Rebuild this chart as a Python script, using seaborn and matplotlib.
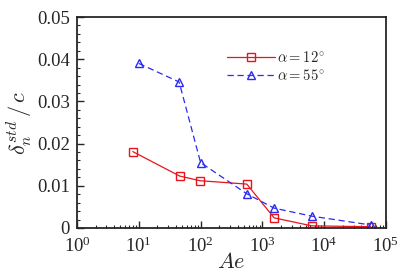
import numpy as np
import pandas as pd
import matplotlib
matplotlib.use("Agg")
import matplotlib.pyplot as plt
import seaborn as sns
from matplotlib.font_manager import FontProperties
from matplotlib.ticker import LogLocator, MultipleLocator, NullFormatter

# values
ae_12 = [8.0, 46, 98, 560, 1550, 6300, 57000]
std_12 = [0.0181, 0.0123, 0.0112, 0.0104, 0.0024, 0.0005, 0.0003]
ae_55 = [10.0, 45, 100, 560, 1550, 6300, 57000]
std_55 = [0.0390, 0.0346, 0.0155, 0.0081, 0.0047, 0.0028, 0.0007]
labels = [r"$\alpha = 12^{\circ}$", r"$\alpha = 55^{\circ}$"]

sns.set_style("ticks")
plt.rcParams["font.family"] = ["Liberation Serif", "DejaVu Serif"]
plt.rcParams["mathtext.fontset"] = "stix"

fig = plt.figure(figsize=(4.15, 2.77), dpi=100)
ax = fig.add_axes([0.1855, 0.177, 0.7445, 0.7616])

sns.lineplot(x=ae_12, y=std_12, ax=ax, color="#e8141c", marker="s", markersize=5.5,
             markerfacecolor="none", markeredgecolor="#e8141c", markeredgewidth=1.0,
             linewidth=0.9, label=labels[0])
sns.lineplot(x=ae_55, y=std_55, ax=ax, color="#2a2af0", marker="^", markersize=6,
             markerfacecolor="none", markeredgecolor="#2a2af0", markeredgewidth=1.0,
             linewidth=0.9, linestyle=(0, (5, 3)), label=labels[1])

ax.set_xscale("log")
ax.set_xlim(1, 1e5)
ax.set_ylim(0, 0.05)
ax.xaxis.set_major_locator(LogLocator(base=10, numticks=10))
ax.xaxis.set_minor_locator(LogLocator(base=10, subs=np.arange(2, 10), numticks=20))
ax.xaxis.set_minor_formatter(NullFormatter())
ax.yaxis.set_minor_locator(MultipleLocator(0.002))
ax.set_yticks([0, 0.01, 0.02, 0.03, 0.04, 0.05])
ax.set_yticklabels(["0", "0.01", "0.02", "0.03", "0.04", "0.05"])

ax.tick_params(axis="both", which="major", direction="in", length=5, width=1,
               labelsize=13.5, top=False, right=False)
ax.tick_params(axis="y", which="major", pad=5)
ax.tick_params(axis="x", which="major", pad=6)
ax.tick_params(axis="both", which="minor", direction="in", length=2.5, width=0.8,
               top=False, right=False)
for s in ax.spines.values():
    s.set_linewidth(1.3)
    s.set_visible(True)

ax.set_xlabel(r"$Ae$", fontsize=16, math_fontfamily="cm", labelpad=-2)
ax.set_ylabel(r"$\delta_n^{std}\,/\,c$", fontsize=16, math_fontfamily="cm", labelpad=2)

leg = ax.legend(loc="center left", bbox_to_anchor=(0.485, 0.765), frameon=False,
                prop=FontProperties(size=10.5, math_fontfamily="cm"),
                handlelength=3.3, handletextpad=0.15, labelspacing=0.2,
                borderaxespad=0, borderpad=0)

fig.savefig("out.png", dpi=100)
